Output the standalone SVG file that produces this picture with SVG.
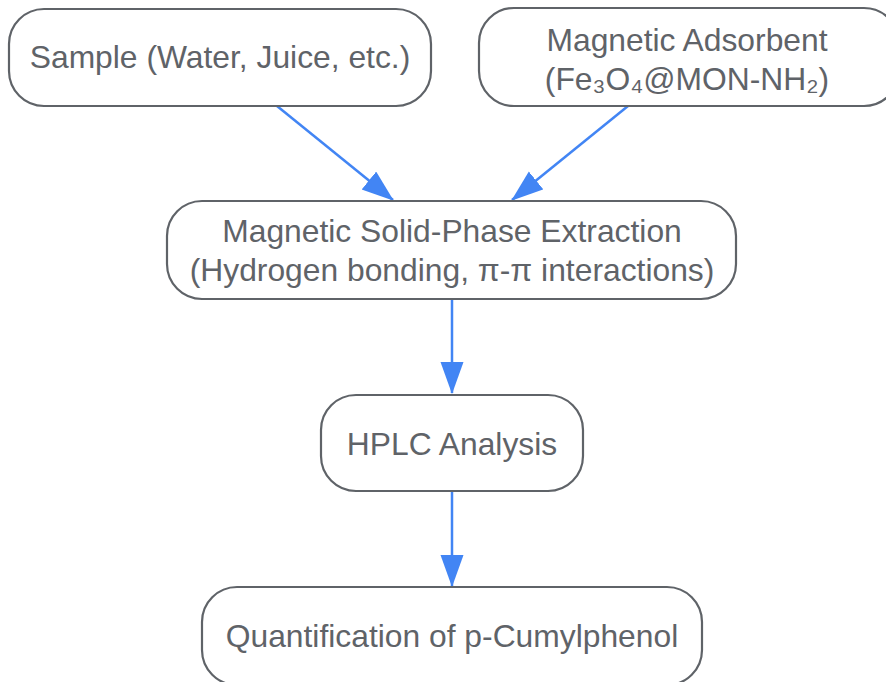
<svg xmlns="http://www.w3.org/2000/svg" width="886" height="682" viewBox="0 0 886 682">
<style>
.box{fill:#ffffff;stroke:#5f6368;stroke-width:2.2}
.lbl{font-family:"Liberation Sans",Arial,sans-serif;font-size:31.8px;fill:#5f6368;text-anchor:middle}
.edge{stroke:#4285f4;stroke-width:2.5;fill:none}
</style>
<defs>
<marker id="ah" markerUnits="userSpaceOnUse" markerWidth="32" markerHeight="24" viewBox="0 0 32 24" refX="31" refY="11.5" orient="auto">
<path d="M0,0 L32,11.5 L0,23 z" fill="#4285f4"/>
</marker>
</defs>
<rect width="886" height="682" fill="#ffffff"/>
<g id="connectors">
<line class="edge" x1="277" y1="106" x2="393" y2="200" marker-end="url(#ah)"/>
<line class="edge" x1="628" y1="106" x2="512" y2="200" marker-end="url(#ah)"/>
<line class="edge" x1="452" y1="300" x2="452" y2="393" marker-end="url(#ah)"/>
<line class="edge" x1="452" y1="492" x2="452" y2="586" marker-end="url(#ah)"/>
</g>
<g id="sample">
<rect class="box" x="9" y="9" width="422" height="97" rx="35"/>
<text class="lbl" x="220" y="68">Sample (Water, Juice, etc.)</text>
</g>
<g id="adsorbent">
<rect class="box" x="479" y="8" width="420" height="98" rx="35"/>
<text class="lbl" x="687" y="51">Magnetic Adsorbent</text>
<text class="lbl" x="687" y="90">(Fe₃O₄@MON-NH₂)</text>
</g>
<g id="mspe">
<rect class="box" x="167" y="201" width="569" height="98" rx="35"/>
<text class="lbl" x="452" y="242">Magnetic Solid-Phase Extraction</text>
<text class="lbl" x="452" y="281">(Hydrogen bonding, π-π interactions)</text>
</g>
<g id="hplc">
<rect class="box" x="321" y="395" width="262" height="96" rx="35"/>
<text class="lbl" x="452" y="455">HPLC Analysis</text>
</g>
<g id="quant">
<rect class="box" x="202" y="587" width="500" height="98" rx="35"/>
<text class="lbl" x="452" y="647">Quantification of p-Cumylphenol</text>
</g>
</svg>
